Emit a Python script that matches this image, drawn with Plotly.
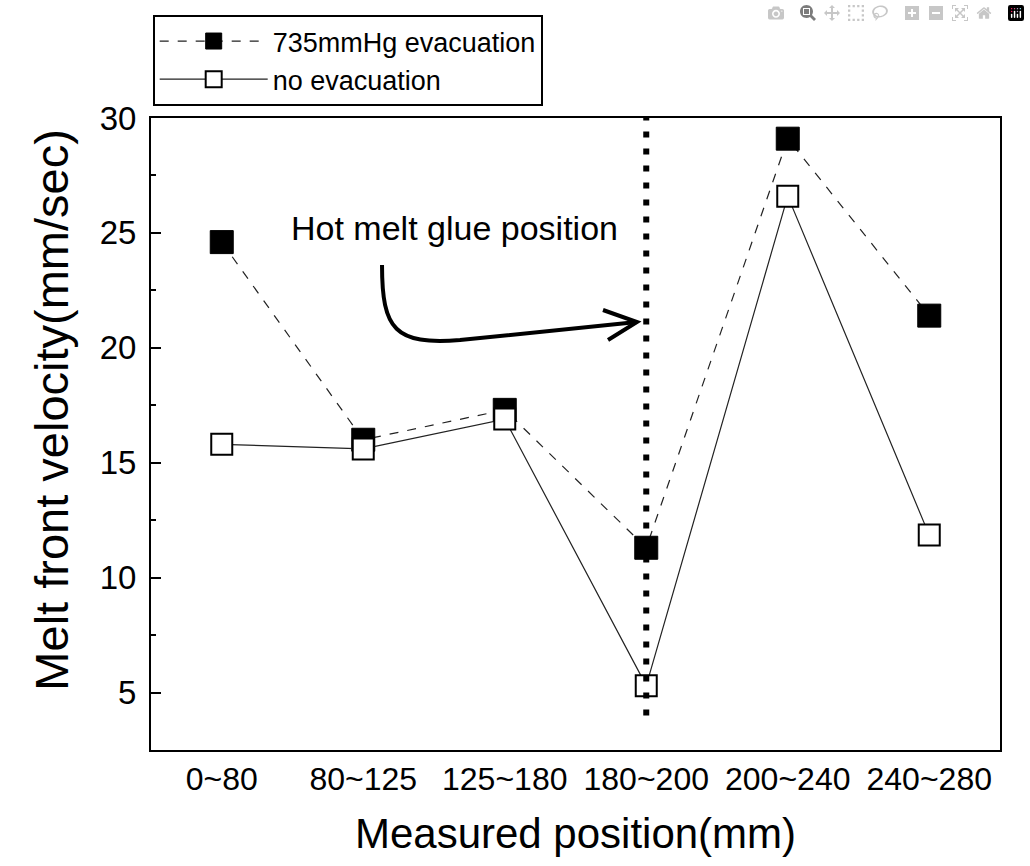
import plotly.graph_objects as go

# ---- data ----
categories = ["0~80", "80~125", "125~180", "180~200", "200~240", "240~280"]
evacuated = [24.6, 16.0, 17.3, 11.3, 29.1, 21.4]      # 735mmHg evacuation
not_evacuated = [15.8, 15.6, 16.9, 5.3, 26.6, 11.85]   # no evacuation
series_names = ["735mmHg evacuation", "no evacuation"]
glue_category = "180~200"
glue_line_span = [4.0, 30.0]
y_range = [2.5, 30]
y_ticks = [5, 10, 15, 20, 25, 30]
x_title = "Measured position(mm)"
y_title = "Melt front velocity(mm/sec)"

fig = go.Figure()
fig.add_trace(go.Scatter(
    x=categories, y=evacuated, name=series_names[0], mode="lines+markers",
    line=dict(color="#222222", width=1.2, dash="dash"),
    marker=dict(symbol="square", size=23, color="black", line=dict(color="black", width=1)),
))
fig.add_trace(go.Scatter(
    x=categories, y=not_evacuated, name=series_names[1], mode="lines+markers",
    line=dict(color="#222222", width=1.2, dash="solid"),
    marker=dict(symbol="square", size=21, color="white", line=dict(color="black", width=2)),
))

# dotted vertical line at glue position
fig.add_shape(type="line", xref="x", yref="y",
              x0=glue_category, x1=glue_category, y0=glue_line_span[0], y1=glue_line_span[1],
              line=dict(color="black", width=6, dash="6px,11px"), layer="above")

# curved arrow (paper coordinates)
fig.add_shape(type="path", xref="paper", yref="paper",
              path="M 0.2721 0.7674 C 0.2721 0.6646 0.2874 0.6408 0.3640 0.6487 L 0.5724 0.6772",
              line=dict(color="black", width=4))
fig.add_shape(type="path", xref="paper", yref="paper",
              path="M 0.5324 0.6962 L 0.5724 0.6772 L 0.5383 0.6487",
              line=dict(color="black", width=4))

fig.add_annotation(text="Hot melt glue position", xref="paper", yref="paper",
                   x=0.358, y=0.826, xanchor="center", yanchor="middle", showarrow=False,
                   font=dict(family="Liberation Sans, Arial", size=34, color="black"))

# y axis title placed as rotated annotation
fig.add_annotation(text=y_title, xref="paper", yref="paper", textangle=-90,
                   x=-0.117, y=0.538, xanchor="center", yanchor="middle", showarrow=False,
                   font=dict(family="Liberation Sans, Arial", size=47, color="black"))

fig.update_xaxes(
    type="category", range=[-0.5, 5.5], showline=True, mirror=True, linewidth=2,
    linecolor="black", ticks="", showgrid=False, zeroline=False, automargin=False,
    tickangle=0,
    tickfont=dict(family="Liberation Sans, Arial", size=32, color="black"),
    ticklabelstandoff=0,
    title=dict(text=x_title, standoff=22,
               font=dict(family="Liberation Sans, Arial", size=42, color="black")),
)
fig.update_yaxes(
    range=y_range, tickvals=y_ticks, showline=True, mirror=True, linewidth=2,
    linecolor="black", ticks="inside", ticklen=10, tickwidth=2, tickcolor="black",
    minor=dict(ticks="inside", ticklen=5, dtick=2.5, tick0=0, tickcolor="black", tickwidth=1.5),
    showgrid=False, zeroline=False, automargin=False,
    tickfont=dict(family="Liberation Sans, Arial", size=33, color="black"),
    ticklabelstandoff=6,
)

fig.update_layout(
    width=1030, height=866,
    margin=dict(l=151, r=30, t=118, b=116, autoexpand=False),
    plot_bgcolor="white", paper_bgcolor="white",
    font=dict(family="Liberation Sans, Arial", color="black"),
    showlegend=True,
    legend=dict(x=0.002, y=1.163, xanchor="left", yanchor="top",
                bordercolor="black", borderwidth=2, bgcolor="white",
                font=dict(family="Liberation Sans, Arial", size=27, color="black"),
                itemwidth=108, tracegroupgap=0, itemsizing="trace"),
)

fig.write_html("out.html", post_script="document.body.style.margin='0';document.body.style.overflow='hidden';")
